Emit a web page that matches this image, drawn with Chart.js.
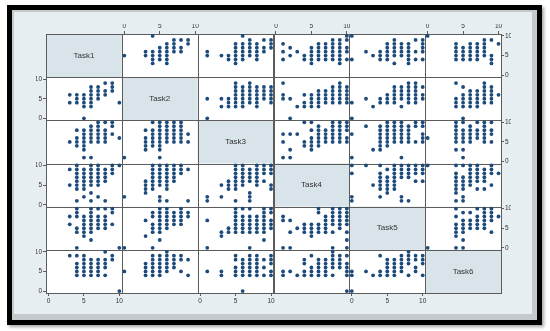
<!DOCTYPE html>
<html><head><meta charset="utf-8">
<script src="https://cdn.jsdelivr.net/npm/chart.js@4/dist/chart.umd.min.js"></script>
<style>
html,body{margin:0;padding:0;background:#fff;width:550px;height:331px;overflow:hidden}
#frame{position:absolute;left:7px;top:5px;width:535px;height:320px;box-sizing:border-box;border:5px solid #000;background:#c4c9cc;box-shadow:2px 2px 3px rgba(0,0,0,0.35)}
#panel{position:absolute;left:14px;top:12px;width:518px;height:302px;background:#e7eef1}
#wrap{position:absolute;left:0;top:0;width:550px;height:331px}
</style></head><body>
<div id="frame"></div><div id="panel"></div>
<div id="wrap"><canvas id="c" width="550" height="331"></canvas></div>
<script>
// Variable names
const tasks = ['Task1','Task2','Task3','Task4','Task5','Task6'];
const tickValues = [0, 5, 10];

// Each pair list tIJ (I<J) holds points as [Task J, Task I]
// (x and y of the upper cell: row I, column J). The lower cell is the transpose.
const t12 = [[0,5],[4,10],[7,9],[8,9],[9,9],[6,8],[7,8],[9,8],[5,7],[6,7],[7,7],[8,7],[3,6],[4,6],[5,6],[6,6],[7,6],[8,6],[3,5],[4,5],[5,5],[6,5],[4,4],[5,4],[6,4],[4,3],[6,3]];
const t13 = [[1,6],[1,5],[3,5],[4,5],[4,4],[5,8],[5,7],[5,6],[5,5],[5,4],[5,3],[6,10],[6,8],[6,7],[6,6],[6,5],[6,4],[7,9],[7,8],[7,7],[7,6],[7,5],[8,8],[8,7],[8,6],[8,5],[8,4],[9,9],[9,7],[9,6],[10,9],[10,8],[10,7]];
const t14 = [[1,8],[1,6],[1,4],[2,7],[2,5],[3,6],[4,5],[4,4],[5,7],[5,6],[5,5],[5,4],[5,3],[6,8],[6,7],[6,6],[6,5],[6,4],[7,8],[7,7],[7,6],[7,5],[7,4],[8,9],[8,8],[8,7],[8,6],[8,5],[8,4],[9,9],[9,8],[9,7],[9,6],[9,5],[9,4],[9,3],[10,10],[10,9],[10,7],[10,6],[10,4]];
const t15 = [[0,10],[0,4],[2,6],[3,5],[4,6],[4,5],[4,4],[5,8],[5,7],[5,6],[5,5],[5,4],[6,9],[6,8],[6,7],[6,6],[6,5],[6,3],[7,8],[7,7],[7,6],[7,5],[8,8],[8,7],[8,6],[8,5],[8,4],[8,3],[9,9],[9,6],[9,4],[10,9],[10,8],[10,7],[10,6],[10,4]];
const t16 = [[0,10],[4,8],[4,7],[4,6],[4,5],[4,4],[5,7],[5,6],[5,5],[5,4],[6,8],[6,7],[6,6],[6,5],[6,4],[7,8],[7,7],[7,6],[7,5],[7,4],[8,9],[8,8],[8,7],[8,6],[8,5],[9,9],[9,5],[9,4],[9,3],[10,8]];
const t23 = [[1,5],[1,0],[3,5],[3,3],[4,5],[4,4],[4,3],[5,9],[5,8],[5,7],[5,6],[5,5],[5,4],[5,3],[6,8],[6,7],[6,6],[6,5],[6,4],[6,3],[7,9],[7,8],[7,7],[7,6],[7,5],[7,4],[8,8],[8,7],[8,6],[8,5],[8,4],[8,3],[9,8],[9,7],[9,6],[9,5],[10,8],[10,7],[10,6],[10,5],[10,4]];
const t24 = [[1,9],[1,6],[1,5],[2,5],[2,0],[3,3],[4,6],[4,4],[4,3],[5,6],[5,5],[5,4],[5,3],[6,7],[6,6],[6,5],[6,4],[6,3],[7,7],[7,6],[7,5],[7,4],[8,8],[8,7],[8,6],[8,5],[8,4],[9,9],[9,8],[9,7],[9,6],[9,5],[9,4],[10,8],[10,7],[10,6],[10,5],[10,4]];
const t25 = [[0,4],[0,0],[2,5],[3,3],[4,5],[4,4],[5,6],[5,5],[5,4],[6,8],[6,7],[6,6],[6,5],[6,4],[7,8],[7,7],[7,6],[7,5],[7,3],[8,9],[8,8],[8,7],[8,6],[8,5],[8,4],[9,9],[9,8],[9,7],[9,6],[9,5],[9,4],[10,8],[10,6],[10,5]];
const t26 = [[4,9],[4,5],[4,4],[4,3],[5,8],[5,6],[5,5],[5,4],[5,3],[5,0],[6,7],[6,6],[6,5],[6,4],[6,3],[7,7],[7,6],[7,5],[7,4],[7,3],[8,9],[8,8],[8,7],[8,6],[8,5],[8,4],[9,8],[9,7],[9,6],[9,5],[9,4],[10,6]];
const t34 = [[1,7],[2,7],[3,7],[1,5],[2,3],[1,1],[2,1],[4,10],[5,10],[4,5],[4,4],[5,8],[5,6],[5,5],[5,4],[5,3],[6,9],[6,8],[6,7],[6,6],[6,5],[6,4],[7,8],[7,7],[7,6],[7,5],[8,10],[8,9],[8,8],[8,7],[8,6],[8,5],[9,10],[9,9],[9,8],[9,7],[9,6],[9,5],[10,10],[10,9],[10,8],[10,6],[10,5]];
const t35 = [[0,7],[0,1],[2,9],[3,3],[4,3],[4,9],[4,8],[4,7],[4,6],[4,5],[4,4],[5,10],[5,9],[5,8],[5,7],[5,6],[5,5],[5,4],[6,10],[6,9],[6,8],[6,7],[6,6],[6,5],[7,10],[7,9],[7,8],[7,7],[7,6],[7,5],[7,1],[8,9],[8,8],[8,7],[8,6],[8,5],[9,10],[9,9],[9,5],[10,10],[10,9],[10,7],[10,6],[10,5]];
const t36 = [[0,6],[4,10],[4,9],[4,8],[4,7],[4,6],[4,5],[4,3],[5,10],[5,8],[5,7],[5,6],[5,5],[5,3],[5,1],[6,9],[6,8],[6,7],[6,6],[6,5],[7,10],[7,8],[7,7],[7,6],[8,10],[8,9],[8,8],[8,7],[8,6],[8,5],[9,10],[9,8],[9,7],[9,5]];
const t45 = [[0,10],[0,8],[0,2],[0,1],[2,10],[3,5],[4,10],[4,8],[4,7],[4,6],[4,5],[4,4],[4,2],[5,9],[5,7],[5,6],[5,5],[5,4],[5,3],[6,10],[6,9],[6,8],[6,7],[6,6],[6,5],[6,4],[7,10],[7,9],[7,8],[7,7],[7,2],[7,1],[8,10],[8,9],[8,8],[8,7],[8,1],[9,10],[9,9],[9,8],[9,6],[10,10],[10,9],[10,8],[10,6]];
const t46 = [[0,10],[4,10],[4,8],[4,7],[4,6],[4,5],[4,4],[4,3],[4,1],[5,10],[5,7],[5,6],[5,5],[5,4],[5,2],[5,1],[6,10],[6,9],[6,8],[6,7],[6,6],[6,5],[7,10],[7,9],[7,8],[7,7],[7,6],[7,4],[8,9],[8,8],[8,7],[8,6],[8,4],[9,10],[9,9],[9,8],[9,5],[10,8]];
const t56 = [[0,0],[4,10],[4,8],[4,6],[4,5],[4,4],[4,3],[4,0],[5,9],[5,7],[5,6],[5,5],[5,4],[5,2],[5,0],[6,9],[6,7],[6,6],[6,5],[7,10],[7,8],[7,7],[7,6],[7,5],[8,10],[8,9],[8,8],[8,7],[8,6],[8,5],[9,10],[9,9],[9,8],[9,7],[9,4],[10,8]];

const pairLists = {t12,t13,t14,t15,t16,t23,t24,t25,t26,t34,t35,t36,t45,t46,t56};
const N = tasks.length;
const DOT = '#1b4a7b';
const FONT = {family: "'Liberation Sans', Arial, sans-serif", size: 6.5};
const TICKCOL = '#333';
const LINECOL = '#5c5c5c';

function setTicks(s){ s.ticks = tickValues.map(v => ({value: v})); }

const scales = {};
for (let k = 1; k <= N; k++) {
  const common = (show) => ({
    type: 'linear', min: -0.5, max: 10.5,
    afterBuildTicks: setTicks,
    ticks: {display: show, font: FONT, color: TICKCOL, padding: 1, maxRotation: 0, autoSkip: false},
    grid: {drawOnChartArea: false, drawTicks: show, tickLength: 3, color: LINECOL, tickColor: LINECOL},
    border: {display: false}
  });
  scales['yl' + k] = Object.assign(common(k % 2 === 0), {position: 'left', stack: 'yl', weight: N + 1 - k, afterFit: s => { s.width = 10; }});
  scales['yr' + k] = Object.assign(common(k % 2 === 1), {position: 'right', stack: 'yr', weight: k, afterFit: s => { s.width = 10; }});
  scales['xt' + k] = Object.assign(common(k % 2 === 0), {position: 'top', stack: 'xt', weight: N + 1 - k, min: -0.35, max: 10.35, afterFit: s => { s.height = 10; }});
  scales['xb' + k] = Object.assign(common(k % 2 === 1), {position: 'bottom', stack: 'xb', weight: k, min: -0.35, max: 10.35, afterFit: s => { s.height = 10; }});
}

const datasets = [];
for (let r = 1; r <= N; r++) {
  for (let c = 1; c <= N; c++) {
    if (r === c) continue;
    let pts;
    if (r < c) pts = pairLists['t' + r + c].map(p => ({x: p[0], y: p[1]}));
    else pts = pairLists['t' + c + r].map(p => ({x: p[1], y: p[0]}));
    datasets.push({
      label: tasks[r - 1] + ' vs ' + tasks[c - 1],
      data: pts, xAxisID: 'xb' + c, yAxisID: 'yl' + r,
      pointRadius: 1.9, pointHoverRadius: 1.9, borderWidth: 0,
      backgroundColor: DOT, pointBackgroundColor: DOT, clip: false
    });
  }
}

const matrixPlugin = {
  id: 'matrix',
  beforeDatasetsDraw(chart) {
    const ctx = chart.ctx;
    ctx.save();
    for (let r = 1; r <= N; r++) for (let c = 1; c <= N; c++) {
      const xs = chart.scales['xb' + c], ys = chart.scales['yl' + r];
      ctx.fillStyle = r === c ? '#d8e4ea' : '#ffffff';
      ctx.fillRect(xs.left, ys.top, xs.right - xs.left, ys.bottom - ys.top);
    }
    ctx.strokeStyle = LINECOL; ctx.lineWidth = 1;
    for (let r = 1; r <= N; r++) for (let c = 1; c <= N; c++) {
      const xs = chart.scales['xb' + c], ys = chart.scales['yl' + r];
      const x0 = Math.round(xs.left) + 0.5, x1 = Math.round(xs.right) + 0.5;
      const y0 = Math.round(ys.top) + 0.5, y1 = Math.round(ys.bottom) + 0.5;
      ctx.strokeRect(x0, y0, x1 - x0, y1 - y0);
    }
    ctx.fillStyle = '#333';
    ctx.font = "8px 'Liberation Sans', Arial, sans-serif";
    ctx.textAlign = 'center'; ctx.textBaseline = 'middle';
    for (let k = 1; k <= N; k++) {
      const xs = chart.scales['xb' + k], ys = chart.scales['yl' + k];
      ctx.fillText(tasks[k - 1], (xs.left + xs.right) / 2, (ys.top + ys.bottom) / 2);
    }
    ctx.restore();
  }
};

new Chart(document.getElementById('c'), {
  type: 'scatter',
  data: {datasets},
  options: {
    responsive: false, animation: false, devicePixelRatio: 1,
    layout: {padding: {left: 36, right: 39, top: 24, bottom: 28}},
    scales,
    plugins: {legend: {display: false}, tooltip: {enabled: false}}
  },
  plugins: [matrixPlugin]
});
</script>
</body></html>
